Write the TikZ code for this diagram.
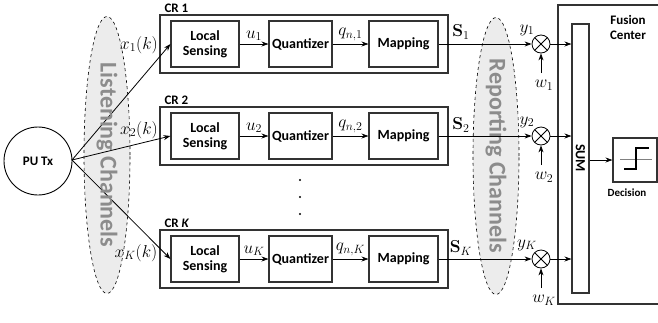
\documentclass[tikz,border=0pt]{standalone}
\usepackage[no-math]{fontspec}
\setmainfont{Carlito}
\usetikzlibrary{arrows.meta,patterns,shapes.geometric}
\begin{document}
\begin{tikzpicture}[x=1pt,y=-1pt,
  blk/.style={draw=black!80,line width=1.1pt,minimum height=46pt,inner sep=0pt,align=center,font=\bfseries\fontsize{14}{15}\selectfont},
  crbox/.style={draw=black!80,line width=1.1pt,minimum width=288pt,minimum height=58pt,inner sep=0pt},
  crlab/.style={anchor=west,font=\bfseries\fontsize{13}{14}\selectfont},
  mlab/.style={font=\fontsize{17}{18}\selectfont,inner sep=0pt},
  arr/.style={-{Stealth[length=7pt,width=5pt]},line width=0.8pt},
  mul/.style={circle,draw,line width=0.8pt,minimum size=18pt,inner sep=0pt,
    path picture={\draw[line width=0.8pt] (path picture bounding box.north west)--(path picture bounding box.south east)
      (path picture bounding box.north east)--(path picture bounding box.south west);}},
  chan/.style={draw,dashed,line width=0.6pt,fill=gray!20,fill opacity=0.75},
  chantext/.style={rotate=-90,text=black!45,font=\bfseries\fontsize{24}{26}\selectfont}
]
\useasboundingbox (0,0) rectangle (658,322);

% PU Tx
\node[circle,draw,line width=0.9pt,minimum size=68pt,inner sep=0pt,font=\bfseries\fontsize{13}{14}\selectfont] (pu) at (38,161) {PU Tx};

% rows
\foreach \r/\y/\lab/\sub/\q in {1/44/CR 1/1/1, 2/136/CR 2/2/2, K/259/{CR \textit{K}}/K/K}{
  \node[crbox] (cr\r) at (304,\y) {};
  \node[crlab] (crl\r) at (161,\y-36) {\lab};
  \node[blk,minimum width=68pt] (ls\r) at (205,\y) {Local\\Sensing};
  \node[blk,minimum width=63pt] (qz\r) at (300.5,\y) {Quantizer};
  \node[blk,minimum width=69pt] (mp\r) at (403.5,\y) {Mapping};
  \node[mul] (mu\r) at (541,\y) {};
  \draw[arr] (ls\r) -- node[mlab,above=3pt] {$u_{\sub}$} (qz\r);
  \draw[arr] (qz\r) -- node[mlab,above=3pt] {$q_{n,\q}$} (mp\r);
  \coordinate (wc\r) at (541,\y+29);
  \node[mlab] (wl\r) at (544,\y+41) {$w_{\sub}$};
  \draw[arr] (wc\r) -- (mu\r.south);
}

% ellipses
\node[chan,ellipse,minimum width=46pt,minimum height=277pt] (lch) at (107,155) {};
\node[chan,ellipse,minimum width=46pt,minimum height=277pt] (rch) at (496,156) {};

% PU arrows
\coordinate (pus) at (72,160);
\draw[arr] (pus) -- (ls1.west);
\draw[arr] (pus) -- (ls2.west);
\draw[arr] (pus) -- (lsK.west);

\node[chantext] (lt) at (107,155) {Listening Channels};
\node[chantext] (rt) at (496,156) {Reporting Channels};

\node[mlab] (x1) at (139,45) {$x_1(k)$};
\node[mlab] (x2) at (139,130) {$x_2(k)$};
\node[mlab] (xK) at (136,253) {$x_K(k)$};

% mapping to multipliers
\foreach \r in {1,2,K}{
  \draw[arr] (mp\r) -- (mu\r);
}
\node[mlab] (s1) at (461,32) {$\mathbf{S}_1$};
\node[mlab] (s2) at (461,125) {$\mathbf{S}_2$};
\node[mlab] (sK) at (461,248) {$\mathbf{S}_K$};
\node[mlab] (y1) at (527,30) {$y_1$};
\node[mlab] (y2) at (527,122) {$y_2$};
\node[mlab] (yK) at (527,245) {$y_K$};

% fusion center
\draw[draw=black!80,line width=1.1pt] (659,5) -- (558,5) -- (558,304) -- (659,304);
\node[align=center,font=\bfseries\fontsize{13}{15}\selectfont] (fc) at (628,27) {Fusion\\Center};
\node[draw=black!80,line width=1.1pt,minimum width=17pt,minimum height=269pt,inner sep=0pt] (sum) at (580.5,158.5) {};
\node[rotate=-90,font=\bfseries\fontsize{14}{15}\selectfont] (sumt) at (580.5,158) {SUM};
\foreach \r in {1,2,K}{
  \draw[arr] (mu\r.east) -- (mu\r.east -| sum.west);
}
\node[draw=black!80,line width=1.1pt,minimum size=44pt,inner sep=0pt] (dec) at (635,160) {};
\draw[arr] (sum.east |- dec.west) -- (dec.west);
\draw[gray,line width=0.8pt] (620,159) -- (652,159);
\draw[line width=1.1pt] (624,169) -- (636,169) -- (636,148) -- (649,148);
\node[font=\bfseries\fontsize{11}{12}\selectfont] (dl) at (627,193) {Decision};

% dots
\foreach \yy in {180,197,214}{ \fill (300,\yy) circle (1.1pt); }
\end{tikzpicture}
\end{document}
